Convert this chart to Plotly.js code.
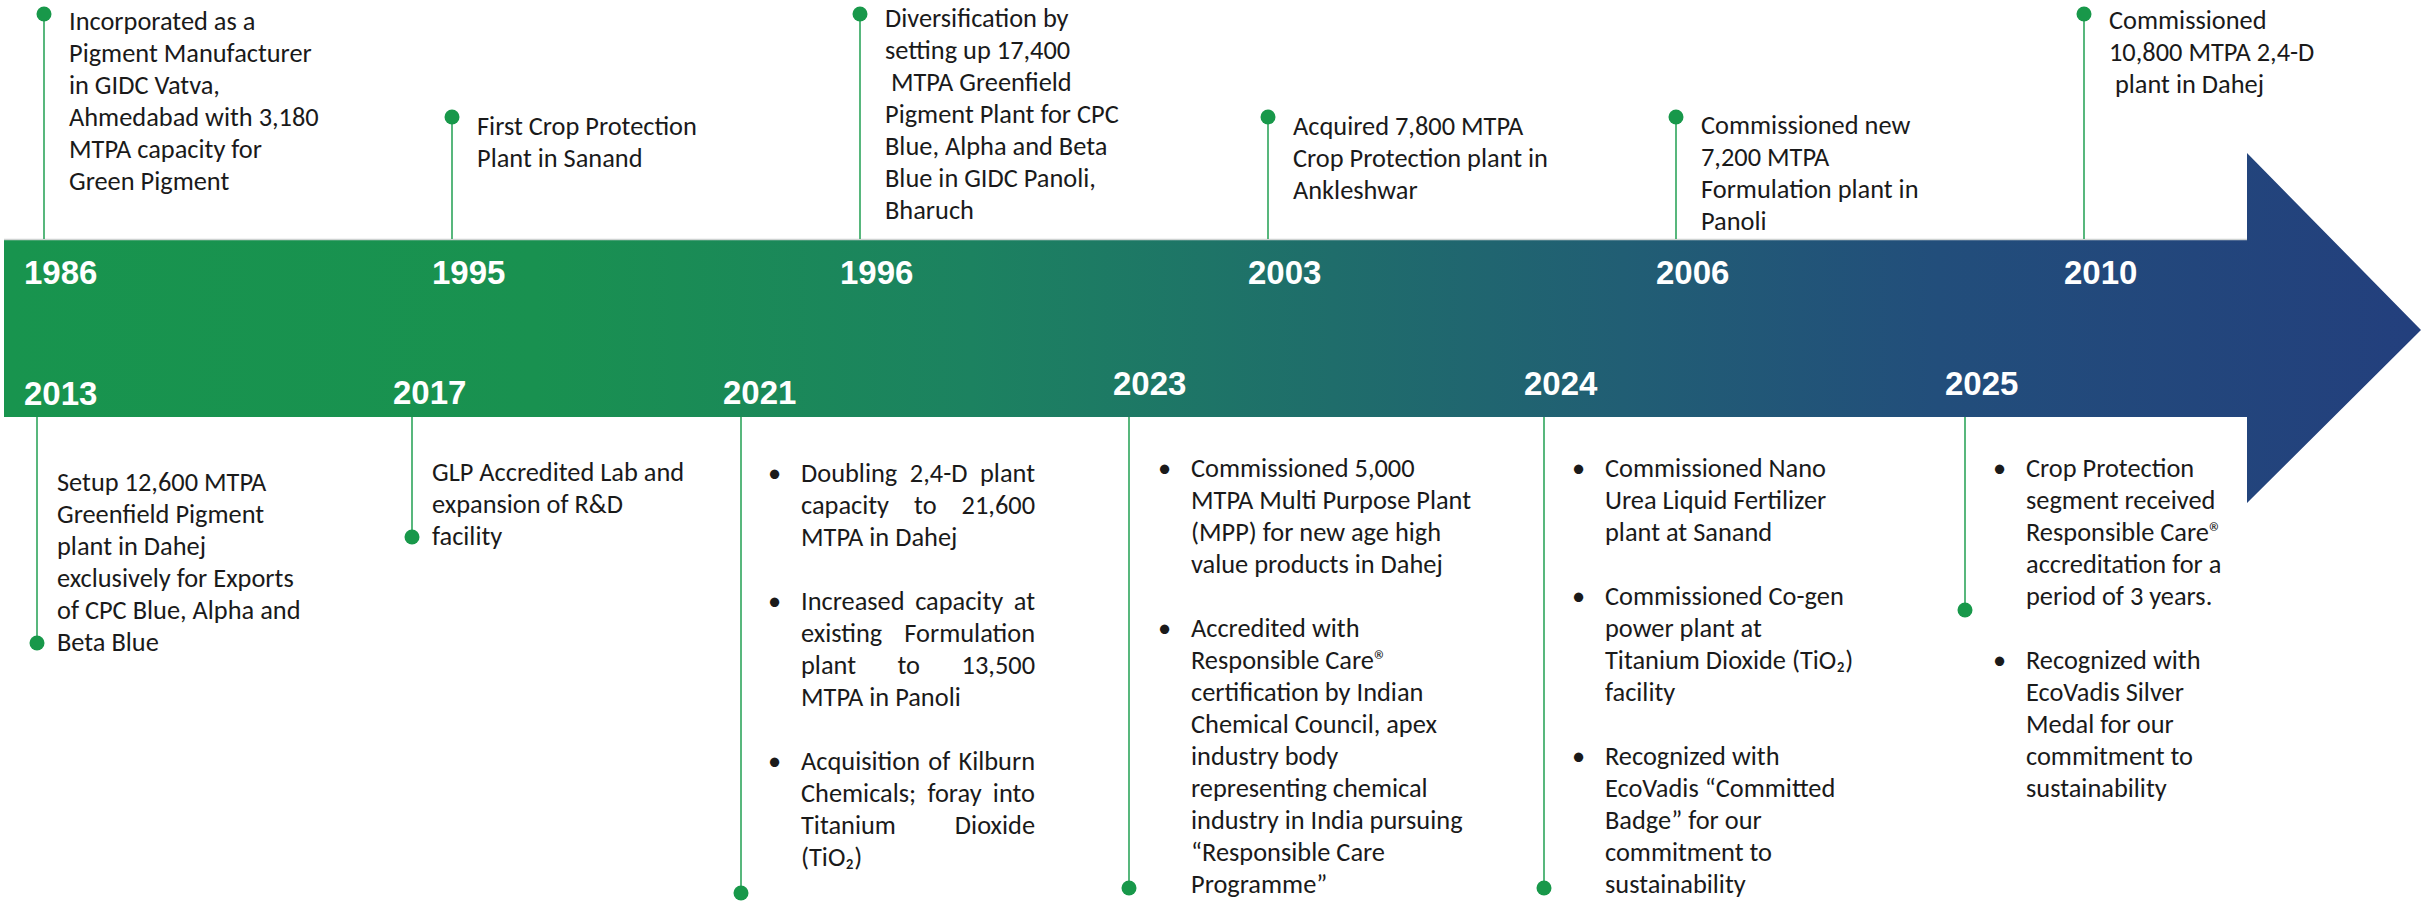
<!DOCTYPE html>
<html>
<head>
<meta charset="utf-8">
<script src="https://cdn.plot.ly/plotly-3.0.1.min.js"></script>
<style>
  html, body { margin: 0; padding: 0; background: #ffffff; }
  #chart { width: 2433px; height: 901px; }
</style>
</head>
<body>
<div id="chart"></div>
<script>
// ---------------- DATA ----------------
const topYears = ['1986', '1995', '1996', '2003', '2006', '2010'];
const topEvents = [
  ['Incorporated as a', 'Pigment Manufacturer', 'in GIDC Vatva,', 'Ahmedabad with 3,180', 'MTPA capacity for', 'Green Pigment'],
  ['First Crop Protection', 'Plant in Sanand'],
  ['Diversification by', 'setting up 17,400', '\u00a0MTPA Greenfield', 'Pigment Plant for CPC', 'Blue, Alpha and Beta', 'Blue in GIDC Panoli,', 'Bharuch'],
  ['Acquired 7,800 MTPA', 'Crop Protection plant in', 'Ankleshwar'],
  ['Commissioned new', '7,200 MTPA', 'Formulation plant in', 'Panoli'],
  ['Commissioned', '10,800 MTPA 2,4-D', '\u00a0plant in Dahej']
];

const bottomYears = ['2013', '2017', '2021', '2023', '2024', '2025'];
// each event: list of paragraphs; each paragraph: list of lines
const bottomEvents = [
  [['Setup 12,600 MTPA', 'Greenfield Pigment', 'plant in Dahej', 'exclusively for Exports', 'of CPC Blue, Alpha and', 'Beta Blue']],
  [['GLP Accredited Lab and', 'expansion of R&D', 'facility']],
  [['Doubling 2,4-D plant', 'capacity to 21,600', 'MTPA in Dahej'],
   ['Increased capacity at', 'existing Formulation', 'plant to 13,500', 'MTPA in Panoli'],
   ['Acquisition of Kilburn', 'Chemicals; foray into', 'Titanium Dioxide', '(TiO\u2082)']],
  [['Commissioned 5,000', 'MTPA Multi Purpose Plant', '(MPP) for new age high', 'value products in Dahej'],
   ['Accredited with', 'Responsible Care\u00ae', 'certification by Indian', 'Chemical Council, apex', 'industry body', 'representing chemical', 'industry in India pursuing', '\u201cResponsible Care', 'Programme\u201d']],
  [['Commissioned Nano', 'Urea Liquid Fertilizer', 'plant at Sanand'],
   ['Commissioned Co-gen', 'power plant at', 'Titanium Dioxide (TiO\u2082)', 'facility'],
   ['Recognized with', 'EcoVadis \u201cCommitted', 'Badge\u201d for our', 'commitment to', 'sustainability']],
  [['Crop Protection', 'segment received', 'Responsible Care\u00ae', 'accreditation for a', 'period of 3 years.'],
   ['Recognized with', 'EcoVadis Silver', 'Medal for our', 'commitment to', 'sustainability']]
];
const bottomBulleted = [false, false, true, true, true, true];
const bottomJustified = [false, false, true, false, false, false];

// ---------------- LAYOUT (pixel geometry) ----------------
const W = 2433, H = 901;
const bandTop = 240, bandBottom = 417, bandLeft = 4;
const headX = 2247, headTop = 153, headBottom = 503, tipX = 2421;
const tipY = (bandTop + bandBottom) / 2 + 1.5;

const topPitch = 408;
const topStem0 = 44, topText0 = 68, topLabel0 = 23;
const topDotY = [14, 117, 14, 117, 117, 14];
const topTextY0 = [21, 126, 18, 126, 125, 20];
const topLabelY = 272;

const bottomStemX = [37, 412, 741, 1129, 1544, 1965];
const bottomDotY = [643, 537, 893, 888, 888, 610];
const bottomLabelX = [23, 392, 722, 1112, 1523, 1944];
const bottomLabelY = [393, 392, 392, 383, 383, 383];
const bottomTextX = [56, 431, 800, 1190, 1604, 2025];
const bottomTextY0 = [482, 472, 473, 468, 468, 468];
const justifyRight = 1034;
const bulletOffset = 33;
const LH = 32;

const FAMILY = 'Carlito, Lato, "Open Sans", sans-serif';
const YEAR_FAMILY = '"Liberation Sans", Arial, sans-serif';
const TEXT_COLOR = '#1a1a1a';
const GREEN = '#18984a';
const STEM = '#2ea55c';

// measure helper to size text like the original
const cv = document.createElement('canvas');
const ctx = cv.getContext('2d');
function measure(t, size) { ctx.font = size + 'px ' + FAMILY; return ctx.measureText(t).width; }
let FS = 26 * 243 / measure('Pigment Manufacturer', 26);
FS = Math.max(21, Math.min(27, FS));

// ---------------- TRACES ----------------
const traces = [];

// arrow with gradient
traces.push({
  type: 'scatter', mode: 'lines',
  x: [bandLeft, headX, headX, tipX, headX, headX, bandLeft, bandLeft],
  y: [bandTop, bandTop, headTop, tipY, headBottom, bandBottom, bandBottom, bandTop],
  fill: 'toself',
  line: { width: 0, color: 'rgba(0,0,0,0)' },
  fillgradient: {
    type: 'horizontal',
    start: bandLeft, stop: tipX,
    colorscale: [
      [0, '#18944e'], [0.22, '#199150'], [0.4, '#1c8260'],
      [0.55, '#1f6d6b'], [0.67, '#215e74'], [0.8, '#224e7b'], [1, '#233f7d']
    ]
  },
  hoverinfo: 'skip', showlegend: false
});

// light top edge of the band
traces.push({
  type: 'scatter', mode: 'lines',
  x: [bandLeft, headX], y: [bandTop - 0.5, bandTop - 0.5],
  line: { color: '#cfd3d2', width: 1.5 }, hoverinfo: 'skip', showlegend: false
});

// stems
const sx = [], sy = [];
topYears.forEach((y, i) => {
  const x = topStem0 + i * topPitch;
  sx.push(x, x, null); sy.push(topDotY[i], bandTop - 1, null);
});
bottomYears.forEach((y, i) => {
  sx.push(bottomStemX[i], bottomStemX[i], null); sy.push(bandBottom, bottomDotY[i], null);
});
traces.push({
  type: 'scatter', mode: 'lines', x: sx, y: sy,
  line: { color: STEM, width: 1.6 }, hoverinfo: 'skip', showlegend: false, connectgaps: false
});

// dots
const dx = [], dy = [];
topYears.forEach((y, i) => { dx.push(topStem0 + i * topPitch); dy.push(topDotY[i]); });
bottomYears.forEach((y, i) => { dx.push(bottomStemX[i]); dy.push(bottomDotY[i]); });
traces.push({
  type: 'scatter', mode: 'markers', x: dx, y: dy,
  marker: { color: GREEN, size: 15, line: { width: 0 } },
  hoverinfo: 'skip', showlegend: false
});

// ---------------- ANNOTATIONS ----------------
const ann = [];
const justifyList = []; // [annotation index, extra word spacing]
function textAnn(x, y, t) {
  ann.push({
    x: x, y: y, xref: 'x', yref: 'y', text: t, showarrow: false,
    xanchor: 'left', yanchor: 'middle', align: 'left', borderpad: 0,
    font: { family: FAMILY, size: FS, color: TEXT_COLOR }
  });
  return ann.length - 1;
}
function yearAnn(x, y, t) {
  ann.push({
    x: x, y: y, xref: 'x', yref: 'y', text: '<b>' + t + '</b>', showarrow: false,
    xanchor: 'left', yanchor: 'middle', borderpad: 0,
    font: { family: YEAR_FAMILY, size: 33, color: '#ffffff' }
  });
}

topYears.forEach((yr, i) => {
  yearAnn(topLabel0 + i * topPitch, topLabelY, yr);
  topEvents[i].forEach((line, k) => {
    textAnn(topText0 + i * topPitch, topTextY0[i] + k * LH, line);
  });
});

bottomYears.forEach((yr, i) => {
  yearAnn(bottomLabelX[i], bottomLabelY[i], yr);
  let k = 0;
  bottomEvents[i].forEach((para, p) => {
    if (p > 0) k += 1;
    para.forEach((line, li) => {
      const y = bottomTextY0[i] + k * LH;
      if (bottomBulleted[i] && li === 0) {
        textAnn(bottomTextX[i] - bulletOffset, y, '\u2022');
      }
      const idx = textAnn(bottomTextX[i], y, line);
      const isLast = li === para.length - 1;
      if (bottomJustified[i] && !isLast) {
        const nSpaces = line.split(' ').length - 1;
        const extra = (justifyRight - bottomTextX[i] - measure(line, FS)) / nSpaces;
        justifyList.push([idx, extra]);
      }
      k += 1;
    });
  });
});

const layout = {
  width: W, height: H,
  margin: { l: 0, r: 0, t: 0, b: 0, pad: 0 },
  paper_bgcolor: '#ffffff', plot_bgcolor: '#ffffff',
  xaxis: { range: [0, W], visible: false, fixedrange: true },
  yaxis: { range: [H, 0], visible: false, fixedrange: true },
  showlegend: false,
  annotations: ann
};

Plotly.newPlot('chart', traces, layout, { staticPlot: true, displayModeBar: false }).then(gd => {
  // justify the 2021 paragraph lines (as in the original) via word spacing
  justifyList.forEach(([idx, extra]) => {
    const t = gd.querySelector('.annotation[data-index="' + idx + '"] text.annotation-text');
    if (t) t.style.wordSpacing = extra.toFixed(2) + 'px';
  });
});
</script>
</body>
</html>
